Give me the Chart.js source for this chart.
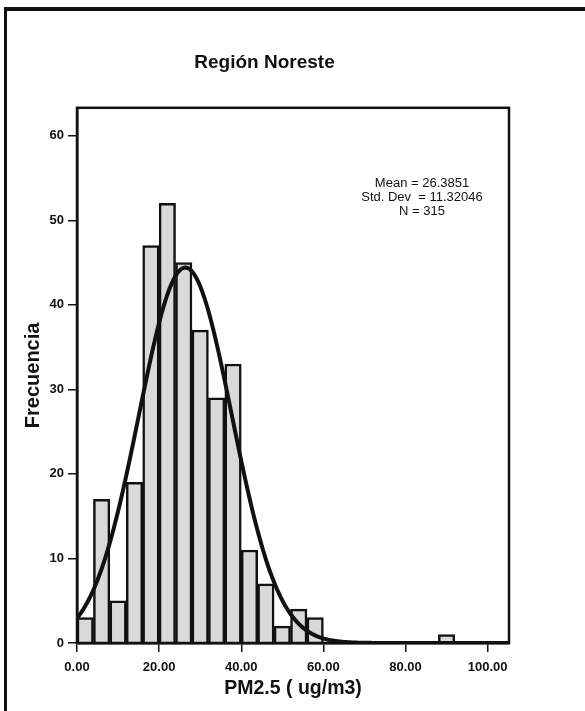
<!DOCTYPE html>
<html>
<head>
<meta charset="utf-8">
<title>Región Noreste</title>
<script src="https://cdn.jsdelivr.net/npm/chart.js@4.4.1/dist/chart.umd.min.js"></script>
<style>
  html, body { margin: 0; padding: 0; background: #fff; }
  #wrap { position: relative; width: 585px; height: 711px; overflow: hidden; }
  #frame {
    position: absolute; left: 4px; top: 7px; right: -10px; bottom: -10px;
    border-left: 3px solid #111; border-top: 4px solid #111;
  }
  canvas { position: absolute; left: 0; top: 0; }
</style>
</head>
<body>
<div id="wrap">
  <div id="frame"></div>
  <canvas id="histChart" width="585" height="711"></canvas>
</div>
<script>
// PM2.5 histogram, 4 ug/m3 bins
const binCenters = [2, 6, 10, 14, 18, 22, 26, 30, 34, 38, 42, 46, 50, 54, 58, 90];
const frequencies = [3, 17, 5, 19, 47, 52, 45, 37, 29, 33, 11, 7, 2, 4, 3, 1];
const binWidth = 4;

// summary statistics
const mean = 26.3851;
const stdDev = 11.32046;
const n = 315;

const xTicks = [0, 20, 40, 60, 80, 100];
const yTicks = [0, 10, 20, 30, 40, 50, 60];

// fitted normal curve scaled to counts per bin
const curve = [];
for (let x = 0; x <= 105; x += 0.5) {
  const z = (x - mean) / stdDev;
  const y = n * binWidth / (stdDev * Math.sqrt(2 * Math.PI)) * Math.exp(-0.5 * z * z);
  curve.push({ x: x, y: y });
}

const bars = binCenters.map((c, i) => ({ x: c, y: frequencies[i] }));

const statsLines = [
  "Mean = " + mean,
  "Std. Dev  = " + stdDev,
  "N = " + n
];

const FONT = "'Liberation Sans', Arial, sans-serif";

// box round the plot area plus the stats text
const framePlugin = {
  id: "plotFrame",
  afterDraw(chart) {
    const { ctx, chartArea } = chart;
    ctx.save();
    ctx.strokeStyle = "#111";
    ctx.lineWidth = 2.5;
    ctx.strokeRect(chartArea.left, chartArea.top,
      chartArea.right - chartArea.left, chartArea.bottom - chartArea.top);

    ctx.fillStyle = "#111";
    ctx.font = "13px " + FONT;
    ctx.textAlign = "center";
    ctx.textBaseline = "middle";
    statsLines.forEach((line, i) => {
      ctx.fillText(line, 422, 183 + i * 14);
    });
    ctx.restore();
  }
};

const config = {
  type: "bar",
  data: {
    datasets: [
      {
        type: "line",
        data: curve,
        borderColor: "#111",
        borderWidth: 4,
        pointRadius: 0,
        tension: 0,
        order: 0
      },
      {
        type: "bar",
        data: bars,
        backgroundColor: "#d9d9d9",
        borderColor: "#111",
        borderWidth: 2.5,
        barPercentage: 1,
        categoryPercentage: 1,
        order: 1
      }
    ]
  },
  options: {
    responsive: false,
    animation: false,
    layout: { padding: { left: 20, right: 76, top: 0, bottom: 10 } },
    plugins: {
      legend: { display: false },
      tooltip: { enabled: false },
      title: {
        display: true,
        text: "Región Noreste",
        color: "#111",
        font: { family: FONT, size: 19, weight: "bold" },
        padding: { top: 51, bottom: 34 }
      }
    },
    scales: {
      x: {
        type: "linear",
        min: 0,
        max: 105.2,
        offset: false,
        afterBuildTicks: (scale) => { scale.ticks = xTicks.map(v => ({ value: v })); },
        afterFit: (scale) => { scale.height = 58; },
        grid: { offset: false, drawOnChartArea: false, color: "#111", lineWidth: 1.5, tickLength: 9 },
        border: { color: "#111", width: 2.5 },
        ticks: {
          color: "#111",
          padding: 8,
          maxRotation: 0,
          font: { family: FONT, size: 13, weight: "bold" },
          callback: (v) => v.toFixed(2)
        },
        title: {
          display: true,
          text: "PM2.5 ( ug/m3)",
          color: "#111",
          font: { family: FONT, size: 19.5, weight: "bold" },
          padding: { top: 0, bottom: 1 }
        }
      },
      y: {
        min: 0,
        max: 63.3,
        afterBuildTicks: (scale) => { scale.ticks = yTicks.map(v => ({ value: v })); },
        afterFit: (scale) => { scale.width = 57; },
        grid: { drawOnChartArea: false, color: "#111", lineWidth: 1.5, tickLength: 9 },
        border: { color: "#111", width: 2.5 },
        ticks: {
          color: "#111",
          padding: 4,
          font: { family: FONT, size: 13, weight: "bold" }
        },
        title: {
          display: true,
          text: "Frecuencia",
          color: "#111",
          font: { family: FONT, size: 20, weight: "bold" },
          padding: { top: 1, bottom: 0 }
        }
      }
    }
  },
  plugins: [framePlugin]
};

const histChart = new Chart(document.getElementById("histChart"), config);
</script>
</body>
</html>
